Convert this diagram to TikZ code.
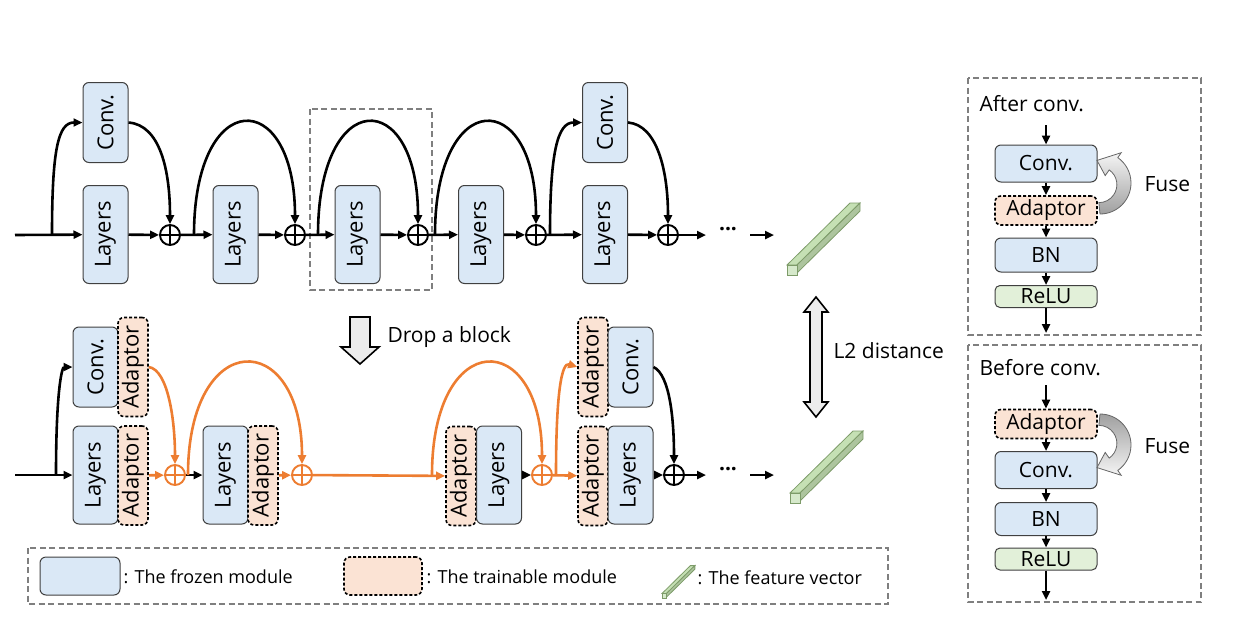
\documentclass[tikz,border=0pt]{standalone}
\usepackage{fontspec}
\setmainfont{Open Sans}
\usetikzlibrary{arrows.meta,positioning}

\definecolor{frozenblue}{RGB}{218,232,246}
\definecolor{trainpeach}{RGB}{251,227,212}
\definecolor{relugreen}{RGB}{226,240,217}
\definecolor{vecgreen}{RGB}{197,224,180}
\definecolor{vecedge}{RGB}{125,155,105}
\definecolor{pathorange}{RGB}{237,125,49}
\definecolor{boxgray}{RGB}{127,127,127}

\tikzset{
  frozen/.style={draw=black!75, fill=frozenblue, rounded corners=6pt, line width=1pt, inner sep=0pt},
  trainable/.style={draw=black, fill=trainpeach, rounded corners=6pt, line width=1.6pt, dash pattern=on 3pt off 2pt, inner sep=0pt},
  relubox/.style={draw=black!75, fill=relugreen, rounded corners=5pt, line width=1pt, inner sep=0pt},
  vlayer/.style={frozen, minimum width=45pt, minimum height=98pt, font=\fontsize{22}{24}\selectfont},
  vconv/.style={frozen, minimum width=45pt, minimum height=80pt, font=\fontsize{22}{24}\selectfont},
  vadapt/.style={trainable, minimum width=30pt, minimum height=99pt, font=\fontsize{22}{24}\selectfont},
  hbox/.style={minimum width=102pt},
  conn/.style={line width=2.6pt, -{Triangle[length=9pt,width=8pt]}},
  sumnode/.style={circle, draw=#1, line width=1.9pt, minimum size=20pt, inner sep=0pt,
    path picture={\draw[#1, line width=1.9pt] (path picture bounding box.north) -- (path picture bounding box.south)
      (path picture bounding box.west) -- (path picture bounding box.east);}},
  sumnode/.default=black,
  groupbox/.style={draw=boxgray, line width=1.8pt, dash pattern=on 6pt off 3.5pt},
  fvec/.pic={
    \filldraw[fill=vecgreen, draw=vecedge, line width=0.8pt] (0,-10) -- (63,-72) -- (73,-72) -- (10,-10) -- cycle;
    \filldraw[fill=vecgreen!88!black, draw=vecedge, line width=0.8pt] (10,-10) -- (73,-72) -- (73,-64) -- (10,-2) -- cycle;
    \filldraw[fill=vecgreen!70!white, draw=vecedge, line width=0.8pt] (0,0) rectangle (10,-10);
  }
}

\begin{document}
\begin{tikzpicture}[x=1pt, y=-1pt, font=\fontsize{21}{24}\selectfont]
\useasboundingbox (0,0) rectangle (1250,624);

% original network
\draw[groupbox] (310,109) rectangle (432,290);
\node[vconv] (c1) at (105.5,122.5) {\rotatebox{90}{Conv.}};
\node[vlayer] (l1) at (105.5,234.5) {\rotatebox{90}{Layers}};
\node[sumnode] (p1) at (170,235) {};
\node[vlayer] (l2) at (235.5,234.5) {\rotatebox{90}{Layers}};
\node[sumnode] (p2) at (295,235) {};
\node[vlayer] (l3) at (357.5,234.5) {\rotatebox{90}{Layers}};
\node[sumnode] (p3) at (418,235) {};
\node[vlayer] (l4) at (481,234.5) {\rotatebox{90}{Layers}};
\node[sumnode] (p4) at (536,235) {};
\node[vconv] (c5) at (605,122.5) {\rotatebox{90}{Conv.}};
\node[vlayer] (l5) at (605,234.5) {\rotatebox{90}{Layers}};
\node[sumnode] (p5) at (668,235) {};
\node (dots1) at (728,229) {\textbf{...}};
\coordinate (in1) at (15,235);
\coordinate (b1) at (52,235);
\coordinate (b2) at (194,235);
\coordinate (b3) at (318,235);
\coordinate (b4) at (435,235);
\coordinate (b5) at (550,235);
\coordinate (e1) at (706,235);
\coordinate (f1) at (750,235);
\coordinate (g1) at (774,235);

\draw[conn] (in1) -- (l1);
\draw[conn] (l1) -- (p1);
\draw[conn] (p1) -- (l2);
\draw[conn] (l2) -- (p2);
\draw[conn] (p2) -- (l3);
\draw[conn] (l3) -- (p3);
\draw[conn] (p3) -- (l4);
\draw[conn] (l4) -- (p4);
\draw[conn] (p4) -- (l5);
\draw[conn] (l5) -- (p5);
\draw[conn] (p5) -- (e1);
\draw[conn] (f1) -- (g1);
\draw[conn] (b1) .. controls (52,150) and (58,122.5) .. (c1.west);
\draw[conn] (c1.east) .. controls (160,125) and (170,170) .. (p1.north);
\draw[conn] (b2) .. controls (194,86) and (295,86) .. (p2.north);
\draw[conn] (b3) .. controls (318,86) and (418,86) .. (p3.north);
\draw[conn] (b4) .. controls (435,86) and (536,86) .. (p4.north);
\draw[conn] (b5) .. controls (550,150) and (558,122.5) .. (c5.west);
\draw[conn] (c5.east) .. controls (657,125) and (668,170) .. (p5.north);
\pic at (787,275) {fvec};

% pruned network with adaptors
\node[vconv] (bc1) at (95.5,367) {\rotatebox{90}{Conv.}};
\node[vadapt] (ba1) at (133,367) {\rotatebox{90}{Adaptor}};
\node[vlayer] (bl1) at (95.5,475) {\rotatebox{90}{Layers}};
\node[vadapt] (bb1) at (133,475.5) {\rotatebox{90}{Adaptor}};
\node[sumnode=pathorange] (q1) at (175,475) {};
\node[vlayer] (bl2) at (225.5,475) {\rotatebox{90}{Layers}};
\node[vadapt] (bb2) at (263,475.5) {\rotatebox{90}{Adaptor}};
\node[sumnode=pathorange] (q2) at (302,475) {};
\node[vadapt] (bb3) at (461,476) {\rotatebox{90}{Adaptor}};
\node[vlayer] (bl3) at (499,475) {\rotatebox{90}{Layers}};
\node[sumnode=pathorange] (q3) at (542,475) {};
\node[vadapt] (ba4) at (593,367) {\rotatebox{90}{Adaptor}};
\node[vconv] (bc4) at (630.5,367) {\rotatebox{90}{Conv.}};
\node[vadapt] (bb4) at (593,476) {\rotatebox{90}{Adaptor}};
\node[vlayer] (bl4) at (630.5,475) {\rotatebox{90}{Layers}};
\node[sumnode] (q4) at (674,475) {};
\node (dots2) at (728,469) {\textbf{...}};
\coordinate (in2) at (15,475);
\coordinate (d1) at (56,475);
\coordinate (d2) at (188,475);
\coordinate (d3) at (432,475);
\coordinate (d4) at (556,475);
\coordinate (e2) at (706,475);
\coordinate (f2) at (750,475);
\coordinate (g2) at (774,475);

\draw[conn] (in2) -- (bl1);
\draw[conn] (d1) .. controls (56,390) and (62,367) .. (bc1.west);
\draw[conn, pathorange] (bb1) -- (q1);
\draw[conn, pathorange] (ba1.east) .. controls (168,370) and (175,420) .. (q1.north);
\draw[conn] (q1) -- (bl2);
\draw[conn, pathorange] (d2) .. controls (188,327) and (302,327) .. (q2.north);
\draw[conn, pathorange] (bb2) -- (q2);
\draw[conn, pathorange] (q2) -- (bb3);
\draw[conn, pathorange] (d3) .. controls (432,327) and (542,327) .. (q3.north);
\draw[conn] (bl3) -- (q3);
\draw[conn, pathorange] (q3) -- (bb4);
\draw[conn, pathorange] (d4) .. controls (556,390) and (562,362) .. (ba4.west);
\draw[conn] (bc4.east) .. controls (670,375) and (674,420) .. (q4.north);
\draw[conn] (bl4) -- (q4);
\draw[conn] (q4) -- (e2);
\draw[conn] (f2) -- (g2);
\pic at (790,503) {fvec};

% drop arrow and distance arrow
\draw[fill=gray!15, line width=1.6pt, line join=miter] (350,317) -- (370,317) -- (370,347) -- (379,347) -- (360,364) -- (341,347) -- (350,347) -- cycle;
\node[anchor=west] (droplabel) at (384,337) {Drop a block};
\draw[fill=gray!15, line width=1.6pt, line join=miter] (816,297) -- (828,312) -- (822,312) -- (822,402) -- (828,402) -- (816,417) -- (804,402) -- (810,402) -- (810,312) -- (804,312) -- cycle;
\node[anchor=west] (l2label) at (830,351) {L2 distance};

% fusion, after conv
\draw[groupbox] (968,78) rectangle (1201,335);
\node[anchor=west] (after) at (976,104) {After conv.};
\node[frozen, hbox, minimum height=37pt] (ac) at (1046,163.5) {Conv.};
\node[trainable, hbox, minimum height=29pt] (aa) at (1046,210.5) {Adaptor};
\node[frozen, hbox, minimum height=34pt] (abn) at (1046,255) {BN};
\node[relubox, hbox, minimum height=22pt] (ar) at (1046,296.5) {ReLU};
\coordinate (ain) at (1046,125);
\coordinate (aout) at (1046,333);
\draw[conn] (ain) -- (ac);
\draw[conn] (ac) -- (aa);
\draw[conn] (aa) -- (abn);
\draw[conn] (abn) -- (ar);
\draw[conn] (ar) -- (aout);
\shade[top color=gray!8, bottom color=gray!75, draw=black!60, line width=0.8pt]
  (1100,214) arc[start angle=90, end angle=-55, radius=31] -- (1121.2,152.7) -- (1097,160.4)
  -- (1105.2,175.6) -- (1109.2,169.9) arc[start angle=-55, end angle=90, radius=18] -- cycle;
\node[anchor=west] (fuse1) at (1141,184) {Fuse};

% fusion, before conv
\draw[groupbox] (968,345) rectangle (1201,602);
\node[anchor=west] (before) at (976,368) {Before conv.};
\node[trainable, hbox, minimum height=29pt] (ba) at (1046,424) {Adaptor};
\node[frozen, hbox, minimum height=37pt] (bc) at (1046,470) {Conv.};
\node[frozen, hbox, minimum height=33pt] (bbn) at (1046,519) {BN};
\node[relubox, hbox, minimum height=22pt] (br) at (1046,559) {ReLU};
\coordinate (bin) at (1046,385);
\coordinate (bout) at (1046,600);
\draw[conn] (bin) -- (ba);
\draw[conn] (ba) -- (bc);
\draw[conn] (bc) -- (bbn);
\draw[conn] (bbn) -- (br);
\draw[conn] (br) -- (bout);
\shade[top color=gray!75, bottom color=gray!8, draw=black!60, line width=0.8pt]
  (1100,414) arc[start angle=-90, end angle=55, radius=31] -- (1121.2,475.3) -- (1097,467.6)
  -- (1105.2,452.4) -- (1109.2,458.1) arc[start angle=55, end angle=-90, radius=18] -- cycle;
\node[anchor=west] (fuse2) at (1141,446) {Fuse};

% legend
\draw[groupbox] (28,548) rectangle (888,604);
\node[frozen, minimum width=80pt, minimum height=38pt] (keyfrozen) at (80,576) {};
\node[anchor=west, font=\fontsize{18}{20}\selectfont] (txtfrozen) at (120,577) {: The frozen module};
\node[trainable, minimum width=78pt, minimum height=38pt] (keytrain) at (383,576) {};
\node[anchor=west, font=\fontsize{18}{20}\selectfont] (txttrain) at (423,577) {: The trainable module};
\pic[scale=0.45] at (662,598) {fvec};
\node[anchor=west, font=\fontsize{18}{20}\selectfont] (txtvec) at (694,578) {: The feature vector};
\end{tikzpicture}
\end{document}
